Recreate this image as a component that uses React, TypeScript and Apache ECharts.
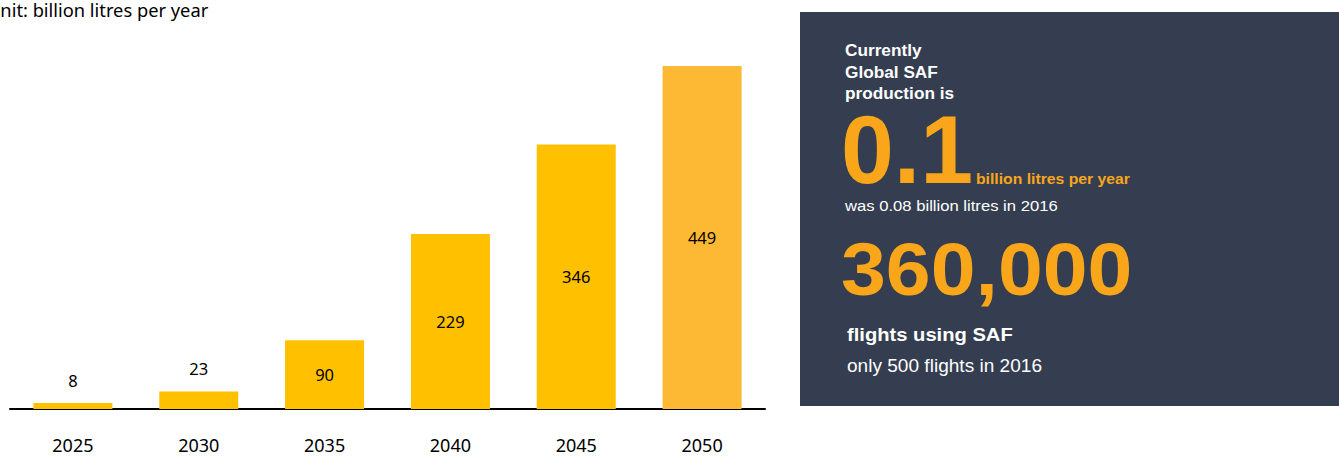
import React, { useEffect, useRef } from "react";
import * as echarts from "echarts";

const years = ["2025", "2030", "2035", "2040", "2045", "2050"];
const values = [8, 23, 90, 229, 346, 449];
const barColors = ["#FFC000", "#FFC000", "#FFC000", "#FFC000", "#FFC000", "#FDB933"];
const labelInside = [false, false, true, true, true, true];

const unitText = "Unit: billion litres per year";
const panelHeading = "Currently\nGlobal SAF\nproduction is";
const bigNumber1 = "0.1";
const bigNumber1Unit = "billion litres per year";
const note1 = "was 0.08 billion litres in 2016";
const bigNumber2 = "360,000";
const bigNumber2Label = "flights using SAF";
const note2 = "only 500 flights in 2016";

export default function App() {
  const ref = useRef<HTMLDivElement>(null);
  useEffect(() => {
    if (!ref.current) return;
    const chart = echarts.init(ref.current, null, { renderer: "svg" });
    const orange = "#F9A61A";
    const panelFont = "'Liberation Sans', Arial, sans-serif";
    const txt = (
      text: string,
      x: number,
      y: number,
      fontSize: number,
      fill: string,
      bold: boolean,
      scaleX = 1,
      extra: any = {}
    ) => ({
      type: "text",
      x,
      y,
      scaleX,
      style: {
        text,
        fontSize,
        fontWeight: bold ? "bold" : "normal",
        fill,
        fontFamily: panelFont,
        verticalAlign: "middle",
        align: "left",
        ...extra,
      },
    });
    chart.setOption({
      animation: false,
      backgroundColor: "#ffffff",
      grid: { left: 10, right: 574, top: 57.5, bottom: 48 },
      xAxis: {
        type: "category",
        data: years,
        axisLine: { show: true, lineStyle: { color: "#000", width: 2 } },
        axisTick: { show: false },
        axisLabel: {
          margin: 27,
          fontSize: 18,
          lineHeight: 18,
          color: "#000",
          fontFamily: "'Noto Sans', sans-serif",
        },
      },
      yAxis: {
        type: "value",
        min: 0,
        max: 460,
        show: false,
        splitLine: { show: false },
      },
      series: [
        {
          type: "bar",
          barWidth: 79,
          data: values.map((v, i) => ({
            value: v,
            itemStyle: { color: barColors[i] },
            label: {
              show: true,
              position: labelInside[i] ? "inside" : "top",
              distance: 14,
              fontSize: 16.5,
              color: "#000",
              fontFamily: "'Noto Sans', sans-serif",
            },
          })),
        },
      ],
      graphic: [
        {
          type: "text",
          x: -13,
          y: 9,
          style: {
            text: unitText,
            fontSize: 18.3,
            fill: "#000",
            fontFamily: "'Noto Sans', sans-serif",
            verticalAlign: "middle",
          },
        },
        {
          type: "rect",
          shape: { x: 800, y: 12, width: 539, height: 394 },
          style: { fill: "#343E50" },
        },
        txt(panelHeading, 845, 72.2, 16.5, "#ffffff", true, 1.045, { lineHeight: 21.3 }),
        txt(bigNumber1, 841, 149.5, 97, orange, true, 0.98),
        txt(bigNumber1Unit, 976, 178.8, 15, orange, true, 1.05),
        txt(note1, 845, 205.8, 15, "#ffffff", false, 1.11),
        txt(bigNumber2, 841, 268.5, 75, orange, true, 1.075),
        txt(bigNumber2Label, 847, 334.8, 18, "#ffffff", true, 1.12),
        txt(note2, 847, 365.5, 18, "#ffffff", false, 1.06),
      ],
    });
    return () => chart.dispose();
  }, []);
  return (
    <div
      ref={ref}
      style={{ position: "fixed", left: 0, top: 0, width: 1339, height: 457 }}
    />
  );
}
